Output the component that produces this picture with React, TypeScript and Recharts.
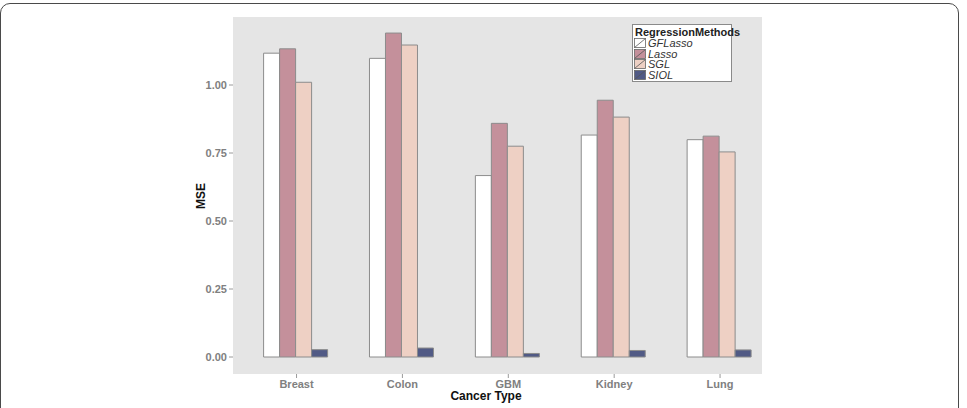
import { type ReactElement } from "react";
import { Bar, BarChart, XAxis, YAxis } from "recharts";

// Cancer types along the x axis
const cancers = ["Breast", "Colon", "GBM", "Kidney", "Lung"];

// MSE per method
const gflasso = [1.117, 1.098, 0.667, 0.816, 0.799];
const lasso = [1.133, 1.191, 0.859, 0.944, 0.812];
const sgl = [1.01, 1.147, 0.775, 0.882, 0.754];
const siol = [0.027, 0.033, 0.013, 0.024, 0.026];

const yTicks = [0, 0.25, 0.5, 0.75, 1.0];

const methods = [
  { key: "GFLasso", fill: "#ffffff" },
  { key: "Lasso", fill: "#c4909b" },
  { key: "SGL", fill: "#eed0c4" },
  { key: "SIOL", fill: "#515a85" },
];

const data = cancers.map((c, i) => ({
  cancer: c,
  GFLasso: gflasso[i],
  Lasso: lasso[i],
  SGL: sgl[i],
  SIOL: siol[i],
}));

const FONT = "'Liberation Sans', Arial, sans-serif";
const TICK = { fontFamily: FONT, fontSize: 11, fontWeight: 700, fill: "#808080" };
const PANEL = "#e5e5e5";

function LegendBox(): ReactElement {
  return (
    <div
      style={{
        position: "absolute",
        left: 632,
        top: 24,
        border: "1px solid #8a8a8a",
        background: "#fff",
        padding: "1px 4px 1px 1px",
        fontFamily: FONT,
        width: 100,
        boxSizing: "border-box",
      }}
    >
      <div style={{ fontWeight: 700, fontSize: 11, lineHeight: "12px", color: "#222", paddingLeft: 1 }}>
        RegressionMethods
      </div>
      {methods.map((m) => (
        <div key={m.key} style={{ display: "flex", alignItems: "center", height: 10.5 }}>
          <svg width={12} height={10} style={{ display: "block" }}>
            <rect x={0.5} y={0.5} width={11} height={9} fill={m.fill} stroke="#666" strokeWidth={0.8} />
            <line x1={0.5} y1={9.5} x2={11.5} y2={0.5} stroke="#555" strokeWidth={0.8} />
          </svg>
          <span style={{ fontStyle: "italic", fontSize: 11, lineHeight: "10px", color: "#333", marginLeft: 2 }}>
            {m.key}
          </span>
        </div>
      ))}
    </div>
  );
}

export default function App(): ReactElement {
  return (
    <div style={{ position: "absolute", left: 0, top: 0, width: 967, height: 408, background: "#fff", overflow: "hidden" }}>
      <div
        style={{
          position: "absolute",
          left: 0,
          top: 3,
          width: 957,
          height: 440,
          border: "1.5px solid #4a4a4a",
          borderRadius: 10,
        }}
      />
      <div style={{ position: "absolute", left: 233, top: 17, width: 529, height: 357, background: PANEL }} />
      <div style={{ position: "absolute", left: 0, top: 0 }}>
        <BarChart
          width={967}
          height={408}
          data={data}
          margin={{ top: 17, right: 194, left: 193, bottom: 4 }}
          barCategoryGap={20}
          barGap={0}
        >
          <XAxis
            dataKey="cancer"
            padding={{ left: 10.6, right: 0 }}
            axisLine={false}
            tickLine={{ stroke: "#9a9a9a" }}
            tickSize={4}
            tick={TICK}
            height={30}
            label={() => (
              <text
                x={486}
                y={400}
                textAnchor="middle"
                style={{ fontFamily: FONT, fontSize: 12, fontWeight: 700, fill: "#111" }}
              >
                Cancer Type
              </text>
            )}
          />
          <YAxis
            width={40}
            domain={[-0.0625, 1.25]}
            ticks={yTicks}
            allowDataOverflow
            axisLine={false}
            tickLine={{ stroke: "#9a9a9a" }}
            tickSize={4}
            tick={TICK}
            tickFormatter={(v: number) => v.toFixed(2)}
            label={() => (
              <text
                x={205}
                y={196}
                textAnchor="middle"
                transform="rotate(-90 205 196)"
                style={{ fontFamily: FONT, fontSize: 12, fontWeight: 700, fill: "#111" }}
              >
                MSE
              </text>
            )}
          />
          {methods.map((m) => (
            <Bar
              key={m.key}
              dataKey={m.key}
              fill={m.fill}
              stroke="#8c8c8c"
              strokeWidth={1}
              isAnimationActive={false}
            />
          ))}
        </BarChart>
      </div>
      <LegendBox />
    </div>
  );
}
